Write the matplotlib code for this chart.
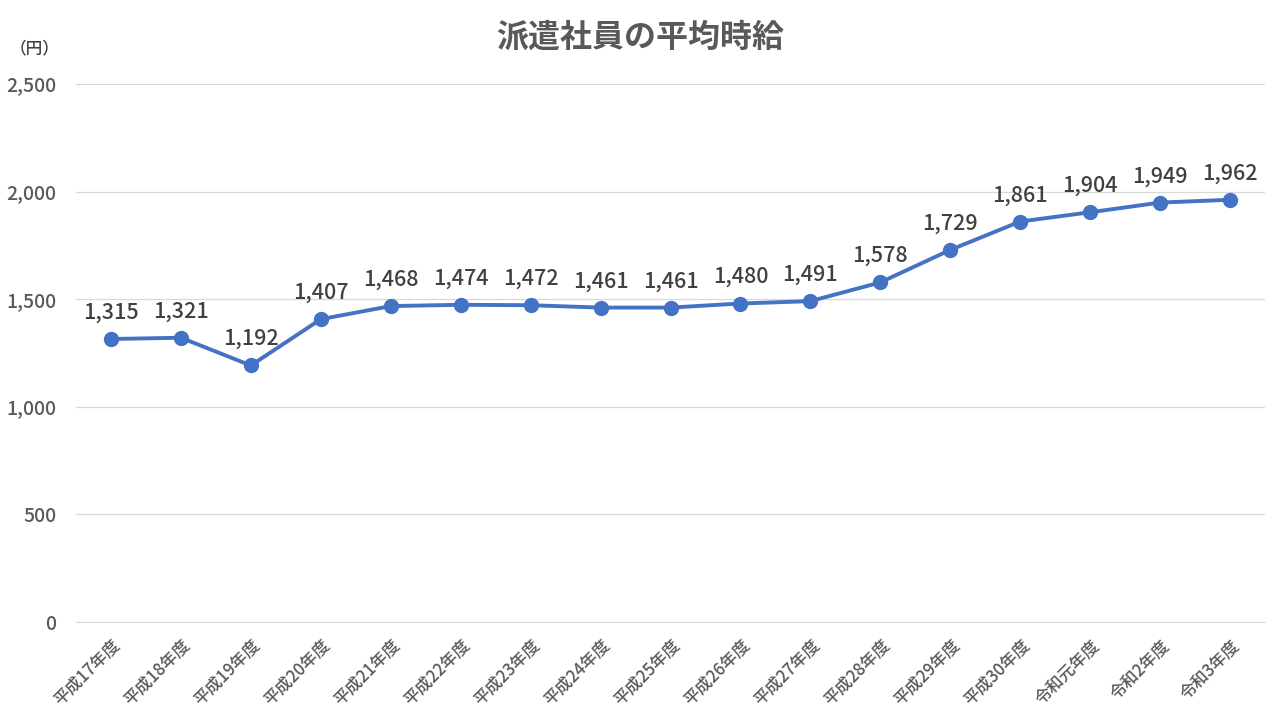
import matplotlib
matplotlib.use("Agg")
import matplotlib.pyplot as plt
from matplotlib.ticker import FuncFormatter

plt.rcParams["font.family"] = ["Noto Sans CJK JP", "DejaVu Sans"]

# ── data ──────────────────────────────────────────────────────────────────────
years = [
    "平成17年度", "平成18年度", "平成19年度", "平成20年度", "平成21年度",
    "平成22年度", "平成23年度", "平成24年度", "平成25年度", "平成26年度",
    "平成27年度", "平成28年度", "平成29年度", "平成30年度", "令和元年度",
    "令和2年度", "令和3年度",
]
wages = [1315, 1321, 1192, 1407, 1468, 1474, 1472, 1461, 1461, 1480,
         1491, 1578, 1729, 1861, 1904, 1949, 1962]
y_ticks = [0, 500, 1000, 1500, 2000, 2500]

LINE_COLOR = "#4472C4"
TEXT_GRAY = "#595959"

# ── plot ──────────────────────────────────────────────────────────────────────
fig = plt.figure(figsize=(12.8, 7.2), dpi=100)
ax = fig.add_axes([76 / 1280, 1 - 622 / 720, (1265 - 76) / 1280, (622 - 84) / 720])

x = list(range(len(years)))
ax.plot(x, wages, color=LINE_COLOR, lw=2.8, marker="o", markersize=10,
        markerfacecolor=LINE_COLOR, markeredgecolor=LINE_COLOR, zorder=3)

for xi, v in zip(x, wages):
    ax.annotate(f"{v:,}", (xi, v), xytext=(0, 11), textcoords="offset points",
                ha="center", va="bottom", fontsize=15.5, fontweight="medium",
                color="#404040")

ax.set_xlim(-0.5, len(years) - 0.5)
ax.set_ylim(0, 2500)
ax.set_yticks(y_ticks)
ax.yaxis.set_major_formatter(FuncFormatter(lambda v, _: f"{int(v):,}"))
ax.set_xticks(x)
ax.set_xticklabels(years, rotation=45, ha="right", rotation_mode="anchor",
                   fontsize=12, fontweight="medium", color=TEXT_GRAY)
for lbl in ax.get_yticklabels():
    lbl.set_fontweight("medium")

ax.grid(axis="y", color="#D9D9D9", lw=0.9)
ax.set_axisbelow(True)
for s in ["top", "right", "left"]:
    ax.spines[s].set_visible(False)
ax.spines["bottom"].set_color("#D9D9D9")
ax.tick_params(axis="both", length=0)
ax.tick_params(axis="y", labelsize=14, labelcolor=TEXT_GRAY, pad=14)
ax.tick_params(axis="x", pad=10)

fig.text(640 / 1280, 1 - 38 / 720, "派遣社員の平均時給", ha="center", va="center",
         fontsize=23, fontweight="bold", color=TEXT_GRAY)
fig.text(35 / 1280, 1 - 48 / 720, "（円）", ha="center", va="center",
         fontsize=12, fontweight="medium", color="#404040")

fig.savefig("out.png", dpi=100)
